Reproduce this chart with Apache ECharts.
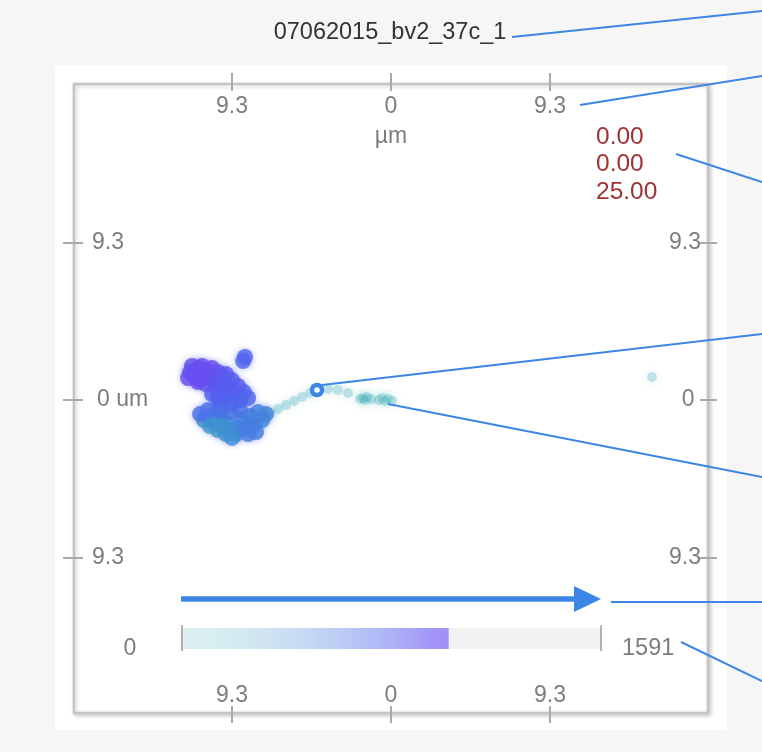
<!DOCTYPE html>
<html>
<head>
<meta charset="utf-8">
<script src="https://cdn.jsdelivr.net/npm/echarts@6/dist/echarts.min.js"></script>
<style>
  html, body { margin: 0; padding: 0; background: #f6f6f6; }
  #chart { width: 762px; height: 752px; }
</style>
</head>
<body>
<div id="chart"></div>
<script>
// Track name and the position readout shown in the corner
const trackName = '07062015_bv2_37c_1';
const readout = ['0.00', '0.00', '25.00'];

// Axis ticks (µm) and their printed labels
const tickValues = [-9.3, 0, 9.3];
const tickText = ['9.3', '0', '9.3'];
const xExtent = [-18.54, 18.54];
const yExtent = [-18.48, 18.66];

// Frame counter: full length of the recording and the frame shown
const frameRange = [0, 1591];
const currentFrame = 1014;
// Frames before this one belong to the migration trail, the rest to the cell body
const trailEnd = 190;

// Cell centroid positions (µm) and the frame each was recorded at
const trackX = [
  15.26,
  0.06, -0.18, -0.35, -0.53, -0.70,
  -1.17, -1.40, -1.64, -1.52, -1.81,
  -2.51, -3.10, -3.68, -4.27, -4.74, -5.20, -5.67, -6.14, -6.61, -7.08, -7.43,
  -10.35, -9.88, -9.42, -9.06, -9.65, -10.12, -10.58, -10.94, -10.47, -10.00, -9.53, -8.95, -9.30,
  -8.48, -8.01, -7.54, -7.31, -7.78, -8.25, -8.71, -7.89, -8.36, -8.83, -9.42, -10.00, -10.70, -11.17,
  -10.00, -9.42, -8.83, -8.36, -8.60,
  -8.65, -8.54,
  -9.06, -9.53, -10.12, -10.47, -10.00, -9.42, -8.95, -9.30, -9.77, -10.23, -9.88,
  -9.65, -10.12, -10.47, -10.82, -11.17, -11.52, -11.75, -11.64, -11.29, -10.82, -10.47, -10.94, -11.40, -11.05, -11.87, -11.29
];
const trackY = [
  1.36,
  -0.06, 0.06, -0.06, 0.12, 0.00,
  0.06, 0.18, 0.12, 0.00, 0.06,
  0.41, 0.59, 0.65, 0.59, 0.41, 0.18, -0.06, -0.30, -0.53, -0.77, -0.94,
  -1.30, -1.54, -1.77, -2.01, -2.01, -1.77, -1.54, -1.18, -0.94, -1.18, -1.42, -1.65, -2.24,
  -1.65, -1.42, -1.18, -0.83, -0.71, -0.94, -1.18, -1.89, -2.01, -0.59, -0.71, -0.59, -0.59, -0.83,
  -0.24, -0.24, 0.00, 0.12, 0.47,
  2.30, 2.54,
  0.35, 0.24, 0.12, 0.35, 0.59, 0.71, 0.83, 1.18, 1.06, 0.83, 1.42,
  1.54, 1.65, 1.30, 0.94, 1.18, 1.42, 1.65, 2.01, 1.89, 1.77, 1.89, 1.42, 1.65, 2.01, 1.30, 1.06
];
const trackFrame = [
  0,
  8, 14, 20, 26, 32,
  42, 48, 54, 60, 66,
  80, 90, 98, 106, 115, 125, 135, 145, 155, 165, 175,
  200, 215, 230, 245, 260, 275, 290, 305, 320, 335, 350, 365, 380,
  400, 415, 430, 445, 460, 475, 490, 505, 520, 535, 550, 565, 575, 585,
  600, 615, 630, 645, 660,
  650, 665,
  675, 690, 705, 720, 735, 750, 760, 770, 780, 790, 800,
  810, 830, 850, 870, 890, 910, 930, 945, 955, 965, 975, 985, 995, 1005, 1010, 1014
];

const points = trackX.map((x, i) => [x, trackY[i], trackFrame[i]]);
const trailPoints = points.filter(p => p[2] < trailEnd);
const bodyPoints = points.filter(p => p[2] >= trailEnd);

const FONT = '"Liberation Sans", Arial, Helvetica, sans-serif';
const LABEL = { fontFamily: FONT, fontSize: 23, color: '#7d7d7d' };
const TICK = { color: '#a9a9a9', width: 2 };
const CALLOUT = '#3d86e6';

const labelFor = v => tickText[tickValues.indexOf(v)] ?? String(v);

function axisBase(extent) {
  return {
    type: 'value',
    min: extent[0],
    max: extent[1],
    splitLine: { show: false },
    axisLine: { show: false, onZero: false }
  };
}

const chart = echarts.init(document.getElementById('chart'), null, { renderer: 'canvas' });

const calloutLines = [
  [512, 37, 762, 11],
  [580, 105, 762, 76],
  [676, 154, 762, 182],
  [322, 385, 762, 334],
  [388, 404, 762, 477],
  [611, 602, 762, 602],
  [681, 642, 762, 681]
];

chart.setOption({
  animation: false,
  backgroundColor: '#f6f6f6',
  title: {
    text: trackName,
    left: 390,
    top: 21,
    padding: 0,
    textAlign: 'center',
    textStyle: { fontFamily: FONT, fontSize: 23.5, fontWeight: 'normal', color: '#333' }
  },
  grid: {
    left: 74, top: 84, width: 634, height: 629,
    show: true,
    backgroundColor: '#ffffff',
    borderColor: '#c4c4c4',
    borderWidth: 2.5,
    shadowColor: 'rgba(0,0,0,0.18)',
    shadowBlur: 4,
    shadowOffsetX: 1.5,
    shadowOffsetY: 1.5
  },
  xAxis: [
    Object.assign(axisBase(xExtent), {
      position: 'top',
      offset: -7,
      axisTick: { show: true, length: 18, customValues: tickValues, lineStyle: TICK },
      axisLabel: {
        inside: true, margin: 1, customValues: tickValues,
        formatter: v => v === 0 ? '{a|0}\n{a|µm}' : '{a|' + labelFor(v) + '}',
        rich: { a: Object.assign({ lineHeight: 30 }, LABEL) }
      }
    }),
    Object.assign(axisBase(xExtent), {
      position: 'bottom',
      offset: -7,
      axisTick: { show: true, length: 17, customValues: tickValues, lineStyle: TICK },
      axisLabel: Object.assign({ inside: true, margin: -1, customValues: tickValues, formatter: labelFor }, LABEL)
    })
  ],
  yAxis: [
    Object.assign(axisBase(yExtent), {
      position: 'left',
      offset: -9,
      axisTick: { show: true, length: 20, customValues: tickValues, lineStyle: TICK },
      axisLabel: {
        inside: true, margin: 9, customValues: tickValues,
        formatter: v => v === 0 ? '{p|0 um}' : '{a|' + labelFor(v) + '}',
        rich: {
          a: Object.assign({}, LABEL),
          p: Object.assign({ padding: [0, 0, 0, 5] }, LABEL)
        }
      }
    }),
    Object.assign(axisBase(yExtent), {
      position: 'right',
      offset: -8,
      axisTick: { show: true, length: 17, customValues: tickValues, lineStyle: TICK },
      axisLabel: Object.assign({
        inside: true, margin: -1, customValues: tickValues,
        formatter: v => v === 0 ? '0 ' : labelFor(v)
      }, LABEL)
    })
  ],
  visualMap: {
    type: 'continuous',
    seriesIndex: [0, 1],
    dimension: 2,
    min: frameRange[0],
    max: frameRange[1],
    range: [frameRange[0], currentFrame],
    calculable: false,
    hoverLink: false,
    orient: 'horizontal',
    left: 181,
    top: 628,
    padding: 0,
    itemWidth: 21,
    itemHeight: 420,
    inRange: {
      color: ['#46b3b8', '#41abc0', '#3b9dcd', '#4286df', '#5069ed', '#5a5cf1',
              '#6a4ff2', '#7347f2', '#7347f2', '#7347f2', '#7347f2']
    },
    outOfRange: { color: '#f2f2f2', opacity: 0 },
    controller: {
      inRange: {
        color: ['#ddf0f0', '#d6edf0', '#cfe3f1', '#c5d8f3', '#b9c8f5', '#acb3f6',
                '#a295f6', '#9e8bf5', '#9e8bf5', '#9e8bf5', '#9e8bf5']
      },
      outOfRange: { color: ['#f2f2f2'] }
    }
  },
  series: [
    {
      name: 'trail',
      type: 'scatter',
      data: trailPoints,
      symbolSize: 10,
      silent: true,
      z: 3,
      itemStyle: { opacity: 0.3, shadowBlur: 8, shadowColor: 'rgba(70,180,185,0.6)' }
    },
    {
      name: 'cell',
      type: 'scatter',
      data: bodyPoints,
      symbolSize: 16,
      silent: true,
      z: 4,
      itemStyle: { opacity: 0.8, shadowBlur: 6, shadowColor: 'rgba(88,100,232,0.5)' }
    }
  ],
  graphic: [
    {
      type: 'rect', z: -10, silent: true,
      shape: { x: 55, y: 65, width: 672, height: 665 },
      style: { fill: '#ffffff' }
    },
    {
      type: 'text', z: 50, silent: true,
      style: {
        text: readout.join('\n'), x: 596, y: 123,
        fill: '#9e3233', fontFamily: FONT, fontSize: 24.5, lineHeight: 27.5
      }
    },
    {
      type: 'text', z: 50, silent: true,
      style: {
        text: String(frameRange[0]), x: 130, y: 649, align: 'center', verticalAlign: 'middle',
        fill: LABEL.color, fontFamily: FONT, fontSize: 23
      }
    },
    {
      type: 'text', z: 50, silent: true,
      style: {
        text: String(frameRange[1]), x: 622, y: 649, verticalAlign: 'middle',
        fill: LABEL.color, fontFamily: FONT, fontSize: 23.5
      }
    },
    {
      type: 'line', z: 50, silent: true,
      shape: { x1: 182, y1: 625, x2: 182, y2: 651 },
      style: { stroke: '#9a9a9a', lineWidth: 1.5 }
    },
    {
      type: 'line', z: 50, silent: true,
      shape: { x1: 601, y1: 625, x2: 601, y2: 651 },
      style: { stroke: '#9a9a9a', lineWidth: 1.5 }
    },
    {
      type: 'line', z: 60, silent: true,
      shape: { x1: 181, y1: 599, x2: 578, y2: 599 },
      style: { stroke: CALLOUT, lineWidth: 5.5 }
    },
    {
      type: 'polygon', z: 60, silent: true,
      shape: { points: [[574, 586], [601, 599], [574, 612]] },
      style: { fill: CALLOUT }
    },
    ...calloutLines.map(l => ({
      type: 'line', z: 60, silent: true,
      shape: { x1: l[0], y1: l[1], x2: l[2], y2: l[3] },
      style: { stroke: CALLOUT, lineWidth: 2 }
    })),
    {
      type: 'circle', z: 61, silent: true,
      shape: { cx: 317, cy: 390, r: 5 },
      style: { fill: '#ffffff', stroke: CALLOUT, lineWidth: 4.5 }
    }
  ]
});
</script>
</body>
</html>
